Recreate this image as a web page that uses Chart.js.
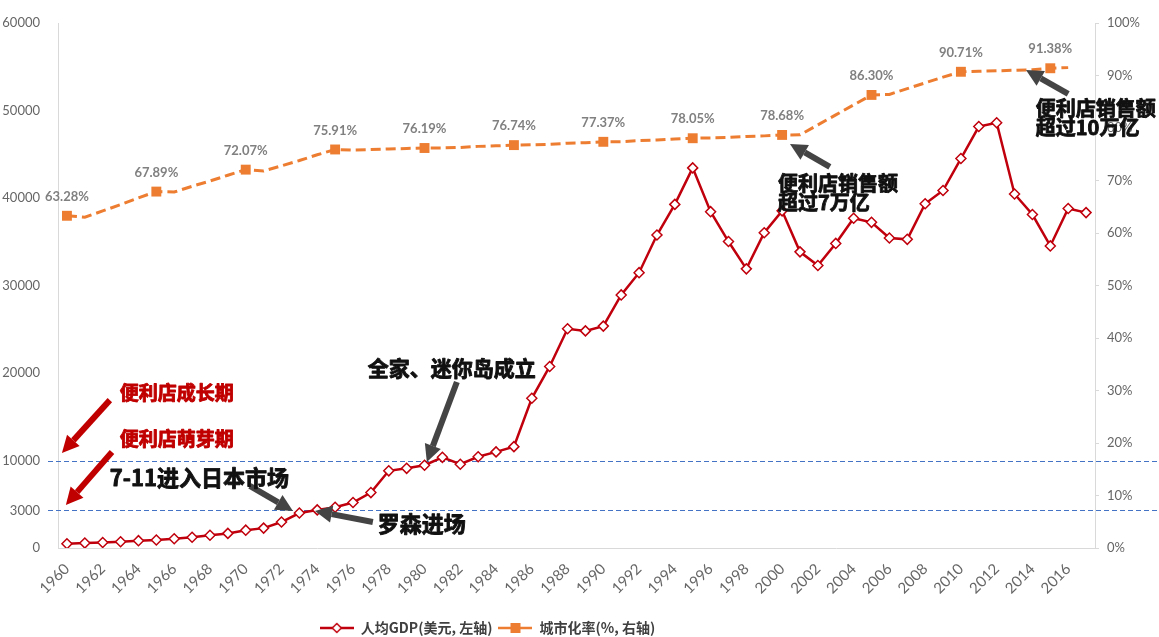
<!DOCTYPE html>
<html>
<head>
<meta charset="utf-8">
<script src="https://cdn.jsdelivr.net/npm/chart.js@4.4.1/dist/chart.umd.min.js"></script>
<style>
  html, body { margin: 0; padding: 0; background: #fff; }
  #wrap { width: 1159px; height: 637px; }
</style>
</head>
<body>
<div id="wrap"><canvas id="gdpChart"></canvas></div>
<script>
// categories
const years = ['1960','1961','1962','1963','1964','1965','1966','1967','1968','1969',
  '1970','1971','1972','1973','1974','1975','1976','1977','1978','1979',
  '1980','1981','1982','1983','1984','1985','1986','1987','1988','1989',
  '1990','1991','1992','1993','1994','1995','1996','1997','1998','1999',
  '2000','2001','2002','2003','2004','2005','2006','2007','2008','2009',
  '2010','2011','2012','2013','2014','2015','2016','2017'];

// per capita GDP, USD (left axis)
const gdpPerCapita = [479, 564, 633, 717, 836, 919, 1058, 1229, 1450, 1669,
  2037, 2272, 2967, 3997, 4354, 4659, 5198, 6335, 8821, 9105,
  9463, 10361, 9578, 10425, 10984, 11585, 17112, 20745, 25052, 24813,
  25359, 28925, 31465, 35766, 39269, 43440, 38437, 35022, 31903, 36027,
  38532, 33846, 32289, 34808, 37689, 37218, 35434, 35275, 39339, 40855,
  44508, 48168, 48603, 40454, 38109, 34524, 38794, 38332];

// urbanization rate, % (right axis)
const urbanRate = [63.28, 63.0, 64.2, 65.4, 66.7, 67.89, 67.8, 68.9, 69.9, 71.0,
  72.07, 71.8, 72.8, 73.8, 74.9, 75.91, 75.8, 75.9, 76.0, 76.1,
  76.19, 76.2, 76.3, 76.5, 76.6, 76.74, 76.8, 76.9, 77.1, 77.2,
  77.37, 77.4, 77.6, 77.7, 77.9, 78.05, 78.1, 78.2, 78.4, 78.5,
  78.68, 78.7, 80.6, 82.5, 84.4, 86.30, 86.4, 87.5, 88.6, 89.7,
  90.71, 90.8, 90.9, 91.0, 91.1, 91.38, 91.5, null];
const urbanMarkedYears = ['1960','1965','1970','1975','1980','1985','1990','1995','2000','2005','2010','2015'];

// axis ticks
const gdpTicks = [0, 10000, 20000, 30000, 40000, 50000, 60000];
const urbanTicks = [0, 10, 20, 30, 40, 50, 60, 70, 80, 90, 100];
const refLines = [{ value: 4300, label: '3000' }, { value: 10000, label: '10000' }];

// notes: x = year index, y = left axis value
const notes = [
  { lines: ['便利店成长期'], x: 2.95, y: 17700, color: '#c00000', size: 19 },
  { lines: ['便利店萌芽期'], x: 2.95, y: 12460, color: '#c00000', size: 19 },
  { lines: ['7-11进入日本市场'], x: 2.4, y: 8000, color: '#111', size: 22 },
  { lines: ['罗森进场'], x: 17.39, y: 2740, color: '#111', size: 22 },
  { lines: ['全家、迷你岛成立'], x: 16.83, y: 20570, color: '#111', size: 21 },
  { lines: ['便利店销售额', '超过7万亿'], x: 39.77, y: 41720, color: '#111', size: 20 },
  { lines: ['便利店销售额', '超过10万亿'], x: 54.19, y: 50290, color: '#111', size: 20 }
];
const arrows = [
  { from: [2.40, 16900], to: [-0.28, 10860], color: '#c00000' },
  { from: [2.52, 10970], to: [-0.06, 4920], color: '#c00000' },
  { from: [10.23, 7090], to: [12.64, 4230], color: '#444' },
  { from: [17.11, 2970], to: [13.87, 4230], color: '#444' },
  { from: [21.81, 18970], to: [20.13, 9830], color: '#444' },
  { from: [42.67, 43550], to: [40.44, 46180], color: '#444' },
  { from: [56.0, 51900], to: [53.64, 54640], color: '#444' }
];

const gdpColor = '#c0000c';
const urbanColor = '#ed7d31';
const tickColor = '#666';
const axisColor = '#d9d9d9';
const cjkFont = '"Noto Sans CJK SC", "Noto Sans", sans-serif';

function legendIcon(color, style) {
  const c = document.createElement('canvas');
  c.width = 34; c.height = 14;
  const g = c.getContext('2d');
  g.strokeStyle = color; g.lineWidth = 2.5;
  g.beginPath(); g.moveTo(0, 7); g.lineTo(34, 7); g.stroke();
  if (style === 'diamond') {
    g.fillStyle = '#fff'; g.lineWidth = 1.5;
    g.beginPath(); g.moveTo(17, 2.5); g.lineTo(21.5, 7); g.lineTo(17, 11.5); g.lineTo(12.5, 7); g.closePath();
    g.fill(); g.stroke();
  } else {
    g.fillStyle = color;
    g.fillRect(12, 2, 10, 10);
  }
  return c;
}

function drawArrow(ctx, x1, y1, x2, y2, color) {
  const ang = Math.atan2(y2 - y1, x2 - x1);
  const headLen = 17, headW = 17;
  const bx = x2 - Math.cos(ang) * headLen, by = y2 - Math.sin(ang) * headLen;
  ctx.save();
  ctx.strokeStyle = color; ctx.fillStyle = color;
  ctx.lineWidth = 6;
  ctx.beginPath(); ctx.moveTo(x1, y1); ctx.lineTo(bx, by); ctx.stroke();
  ctx.beginPath();
  ctx.moveTo(x2, y2);
  ctx.lineTo(bx + Math.sin(ang) * headW / 2, by - Math.cos(ang) * headW / 2);
  ctx.lineTo(bx - Math.sin(ang) * headW / 2, by + Math.cos(ang) * headW / 2);
  ctx.closePath(); ctx.fill();
  ctx.restore();
}

const extrasPlugin = {
  id: 'extras',
  afterLayout(chart) {
    // legend sits left of centre and a little lower in the original
    chart.legend.left -= 92;
    chart.legend.right -= 92;
    chart.legend.top += 8;
    chart.legend.bottom += 8;
  },
  beforeDatasetsDraw(chart) {
    const ctx = chart.ctx, y = chart.scales.y;
    ctx.save();
    ctx.strokeStyle = '#4472c4';
    ctx.lineWidth = 1.2;
    ctx.setLineDash([5, 3]);
    refLines.forEach(r => {
      const py = Math.round(y.getPixelForValue(r.value)) + 0.5;
      ctx.beginPath(); ctx.moveTo(48, py); ctx.lineTo(chart.width, py); ctx.stroke();
    });
    ctx.restore();
  },
  afterDatasetsDraw(chart) {
    const ctx = chart.ctx;
    const meta = chart.getDatasetMeta(1);
    ctx.save();
    ctx.font = 'bold 13px Lato, sans-serif';
    ctx.fillStyle = '#808080';
    ctx.textAlign = 'center';
    ctx.textBaseline = 'middle';
    years.forEach((yr, i) => {
      if (!urbanMarkedYears.includes(yr)) return;
      const p = meta.data[i];
      ctx.fillText(urbanRate[i].toFixed(2) + '%', p.x, p.y - 19);
    });
    ctx.restore();
  },
  afterDraw(chart) {
    const ctx = chart.ctx, xs = chart.scales.x, ys = chart.scales.y;
    arrows.forEach(a => {
      drawArrow(ctx, xs.getPixelForValue(a.from[0]), ys.getPixelForValue(a.from[1]),
        xs.getPixelForValue(a.to[0]), ys.getPixelForValue(a.to[1]), a.color);
    });
    ctx.save();
    ctx.textAlign = 'left';
    ctx.textBaseline = 'middle';
    ctx.lineJoin = 'round';
    ctx.lineWidth = 0.9;
    notes.forEach(n => {
      ctx.font = 'bold ' + n.size + 'px ' + cjkFont;
      ctx.fillStyle = n.color;
      ctx.strokeStyle = n.color;
      const px = xs.getPixelForValue(n.x), py = ys.getPixelForValue(n.y);
      n.lines.forEach((t, k) => {
        ctx.fillText(t, px, py + k * 19);
        ctx.strokeText(t, px, py + k * 19);
      });
    });
    ctx.restore();
  }
};

const ctx = document.getElementById('gdpChart').getContext('2d');
const chart = new Chart(ctx, {
  type: 'line',
  data: {
    labels: years,
    datasets: [{
      label: '人均GDP(美元, 左轴)',
      data: gdpPerCapita,
      yAxisID: 'y',
      borderColor: gdpColor,
      borderWidth: 2.5,
      pointStyle: 'rectRot',
      pointRadius: 5,
      pointBackgroundColor: '#fff',
      pointBorderColor: gdpColor,
      pointBorderWidth: 1.5,
      tension: 0,
      order: 1
    }, {
      label: '城市化率(%, 右轴)',
      data: urbanRate,
      yAxisID: 'y1',
      borderColor: urbanColor,
      borderWidth: 3,
      borderDash: [10, 5],
      pointStyle: 'rect',
      pointRadius: c => urbanMarkedYears.includes(years[c.dataIndex]) ? 7 : 0,
      pointBackgroundColor: urbanColor,
      pointBorderColor: urbanColor,
      pointBorderWidth: 0,
      tension: 0,
      spanGaps: false,
      order: 2
    }]
  },
  options: {
    responsive: true,
    maintainAspectRatio: false,
    animation: false,
    layout: { padding: { top: 23, left: 0, right: 0, bottom: 0 } },
    plugins: {
      tooltip: { enabled: false },
      legend: {
        position: 'bottom',
        labels: {
          usePointStyle: true,
          pointStyleWidth: 34,
          padding: 6,
          color: '#404040',
          font: { family: cjkFont, size: 14, weight: 'bold' },
          generateLabels: c => c.data.datasets.map((ds, i) => ({
            text: ds.label,
            pointStyle: i === 0 ? legendIcon(gdpColor, 'diamond') : legendIcon(urbanColor, 'square'),
            fontColor: '#404040',
            fillStyle: 'transparent',
            strokeStyle: 'transparent',
            lineWidth: 0,
            hidden: false,
            datasetIndex: i
          }))
        }
      }
    },
    scales: {
      x: {
        type: 'category',
        offset: true,
        grid: { display: false },
        border: { display: true, color: axisColor },
        ticks: {
          autoSkip: false,
          minRotation: 45,
          maxRotation: 45,
          padding: 4,
          color: tickColor,
          font: { family: 'Lato, sans-serif', size: 15 },
          callback: (v, i) => (i % 2 === 0 ? years[i] : '')
        },
        afterFit: s => { s.height = 59; }
      },
      y: {
        position: 'left',
        min: 0,
        max: 60000,
        grid: { display: false },
        border: { display: true, color: axisColor },
        afterBuildTicks: s => {
          const vals = gdpTicks.concat(refLines.map(r => r.value));
          s.ticks = Array.from(new Set(vals)).sort((a, b) => a - b).map(v => ({ value: v }));
        },
        ticks: {
          padding: 10,
          color: tickColor,
          font: { family: 'Lato, sans-serif', size: 13 },
          callback: v => {
            const r = refLines.find(l => l.value === v);
            return r ? r.label : String(v);
          }
        },
        afterFit: s => { s.width = 58; }
      },
      y1: {
        position: 'right',
        min: 0,
        max: 100,
        grid: { display: true, drawOnChartArea: false, tickLength: 4, color: axisColor },
        border: { display: true, color: axisColor },
        afterBuildTicks: s => { s.ticks = urbanTicks.map(v => ({ value: v })); },
        ticks: {
          padding: 8,
          color: tickColor,
          font: { family: 'Lato, sans-serif', size: 13 },
          callback: v => v + '%'
        },
        afterFit: s => { s.width = 64; }
      }
    }
  },
  plugins: [extrasPlugin]
});
</script>
</body>
</html>
